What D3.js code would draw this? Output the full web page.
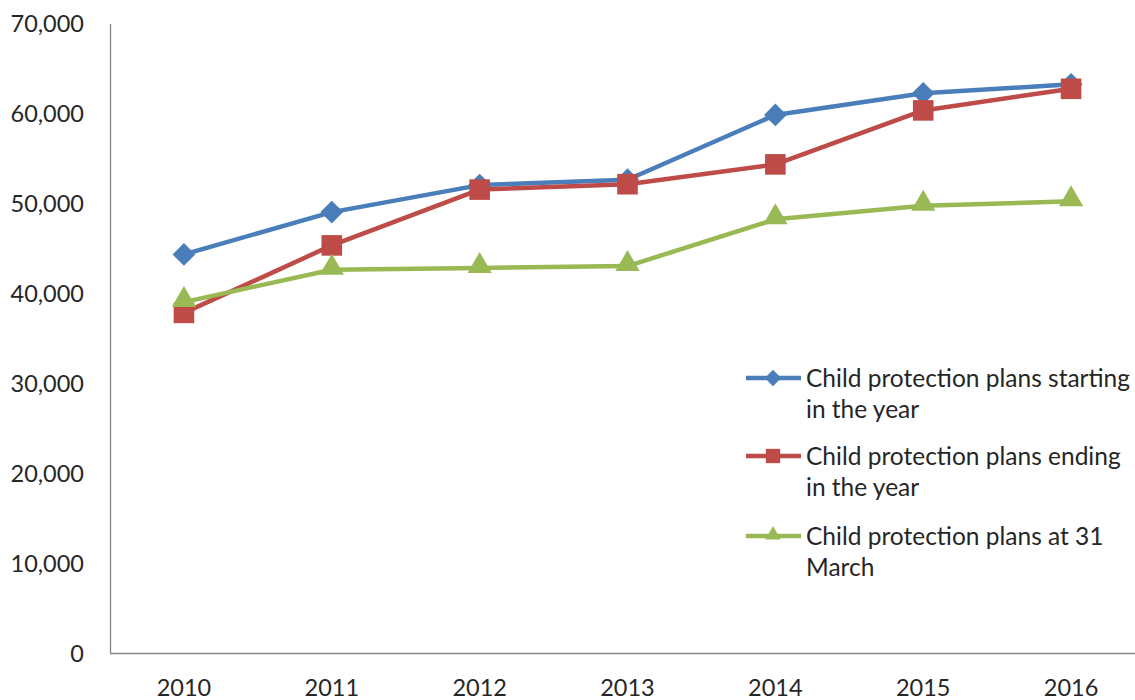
<!DOCTYPE html>
<html><head><meta charset="utf-8">
<script src="https://cdn.jsdelivr.net/npm/d3@7"></script>
<style>body{margin:0;background:#fff}svg{display:block}text{font-family:Lato,"Open Sans",sans-serif;fill:#262626}</style>
</head><body><svg id="c" width="1135" height="700"></svg>
<script>
const years = ["2010","2011","2012","2013","2014","2015","2016"];
const starting = [44400, 49100, 52100, 52700, 59900, 62300, 63300];
const ending = [37900, 45400, 51600, 52200, 54400, 60400, 62800];
const atMarch = [39100, 42700, 42900, 43100, 48300, 49800, 50300];
const yTicks = [0, 10000, 20000, 30000, 40000, 50000, 60000, 70000];
const seriesNames = [["Child protection plans starting", "in the year"], ["Child protection plans ending", "in the year"], ["Child protection plans at 31", "March"]];
const colors = ["#4a7ebb", "#be4b48", "#98b954"];
const symbols = [d3.symbolDiamond2, d3.symbolSquare2, d3.symbolTriangle2];
const seriesVals = [starting, ending, atMarch];

const svg = d3.select("#c");
const x = d3.scalePoint().domain(years).range([110, 1145]).padding(0.5);
const y = d3.scaleLinear().domain([0, 70000]).range([654, 24]);
const fmt = d3.format(",");

// axes
svg.append("line").attr("x1",110.5).attr("x2",110.5).attr("y1",24).attr("y2",654).attr("stroke","#868686").attr("stroke-width",1.3);
svg.append("line").attr("x1",110).attr("x2",1145).attr("y1",653.5).attr("y2",653.5).attr("stroke","#868686").attr("stroke-width",1.3);
svg.selectAll(".yt").data(yTicks).enter().append("text").attr("class","yt")
  .attr("x",84).attr("y",d=>y(d)).attr("dy","0.35em").attr("text-anchor","end")
  .style("font-size","23.5px").text(d=>fmt(d));
svg.selectAll(".xt").data(years).enter().append("text").attr("class","xt")
  .attr("x",d=>x(d)).attr("y",688).attr("dy","0.35em").attr("text-anchor","middle")
  .style("font-size","23.5px").text(d=>d);

const line = d3.line().x((d,i)=>x(years[i])).y(d=>y(d));
const sizes = [330, 540, 420];
seriesVals.forEach((vals, k) => {
  const g = svg.append("g");
  g.append("path").datum(vals).attr("d", line).attr("fill","none").attr("stroke",colors[k]).attr("stroke-width",4.5).attr("stroke-linejoin","round");
  g.selectAll("path.m").data(vals).enter().append("path").attr("class","m")
    .attr("transform",(d,i)=>`translate(${x(years[i])},${y(d) + (k===2?-2:0)})`)
    .attr("d", d3.symbol().type(symbols[k]).size(sizes[k])).attr("fill",colors[k]);
});

// legend
const legY = [378, 456, 536];
const lg = svg.append("g");
seriesNames.forEach((nm, k) => {
  lg.append("line").attr("x1",746).attr("x2",801).attr("y1",legY[k]).attr("y2",legY[k]).attr("stroke",colors[k]).attr("stroke-width",4.5);
  lg.append("path").attr("transform",`translate(773,${legY[k] + (k===2?-1:0)})`).attr("d", d3.symbol().type(symbols[k]).size(k===1?260:170)).attr("fill",colors[k]);
  const t = lg.append("text").attr("x",806).attr("y",legY[k]).style("font-size","24.5px");
  t.append("tspan").attr("x",806).attr("dy","0.35em").text(nm[0]);
  t.append("tspan").attr("x",806).attr("dy","1.28em").text(nm[1]);
});
</script></body></html>
